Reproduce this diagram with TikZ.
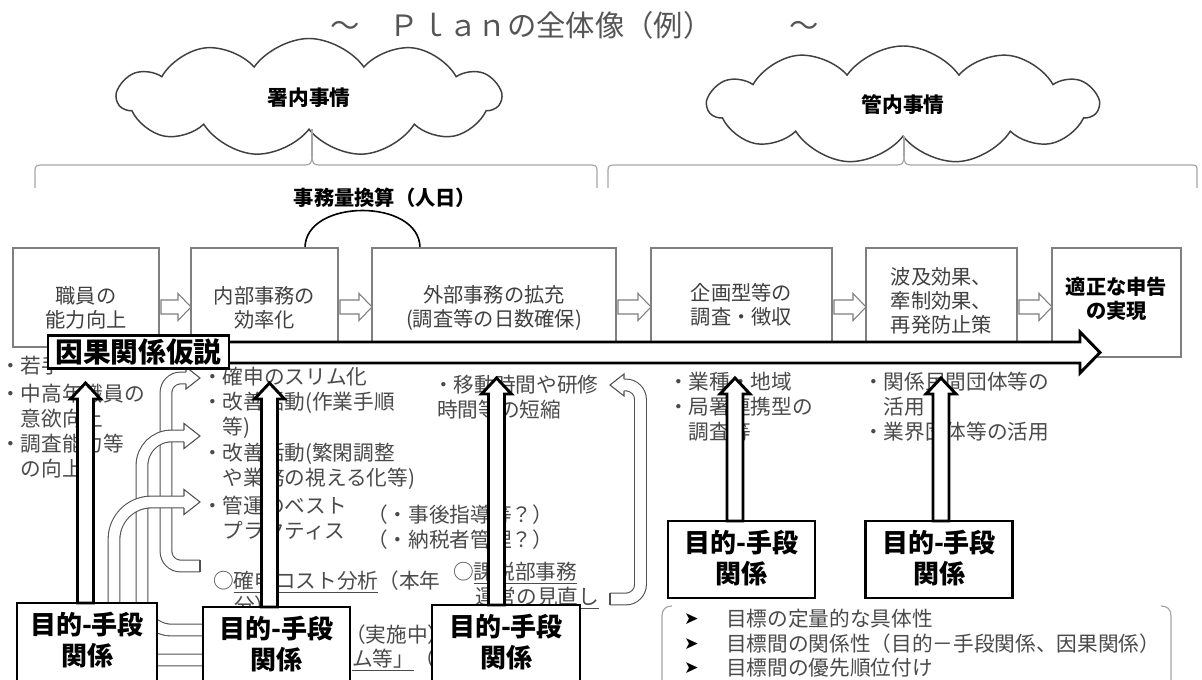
\documentclass[tikz,border=0pt]{standalone}
\usepackage{fontspec}
\setmainfont{Noto Sans CJK JP}
\newfontfamily\dejavu{DejaVu Sans}
\usetikzlibrary{shapes.symbols,calc}
\definecolor{boxgray}{HTML}{7F7F7F}
\definecolor{txtgray}{HTML}{404040}
\definecolor{listgray}{HTML}{4A4A4A}
\definecolor{bracegray}{HTML}{A6A6A6}
\definecolor{linegray}{HTML}{505050}
\definecolor{titlegray}{HTML}{555555}
\definecolor{cloudgray}{HTML}{404040}
\tikzset{
  every node/.style={inner sep=0pt, outer sep=0pt},
  tbox/.style={draw=boxgray, line width=0.8pt, fill=white, rectangle},
  ttext/.style={text=txtgray, align=center, font=\fontsize{15.2}{18}\selectfont},
  tbold/.style={text=black, align=center, font=\bfseries\fontsize{15.2}{18}\selectfont},
  ltext/.style={text=listgray, align=left, anchor=west, font=\fontsize{15.5}{18.75}\selectfont},
  midarrow/.style={draw=boxgray, line width=0.8pt, fill=white, line join=miter},
  bigarr/.style={draw=black, line width=2.2pt, fill=white, line join=miter},
  uparr/.style={draw=black, line width=2.2pt, fill=white, line join=miter},
  mbox/.style={draw=black, line width=2.2pt, fill=white, rectangle},
  mtext/.style={align=center, font=\bfseries\fontsize{19.5}{23.25}\selectfont},
  dbl/.style={draw=linegray, line width=0.8pt, double=white, double distance=8pt},
  headst/.style={draw=linegray, line width=0.8pt, fill=white, line join=miter},
  brace/.style={draw=bracegray, line width=0.9pt},
  cloudst/.style={cloud, cloud puffs=11, cloud puff arc=110, cloud ignores aspect,
     draw=cloudgray, line width=1.1pt, fill=white, font=\bfseries\fontsize{15.5}{18}\selectfont},
  hR/.style args={#1/#2/#3}{to path={($(\tikztostart)+(0,-#1)$) -- ($(\tikztotarget)+(-#3,-#1)$)
     -- ($(\tikztotarget)+(-#3,-#2)$) -- (\tikztotarget) -- ($(\tikztotarget)+(-#3,#2)$)
     -- ($(\tikztotarget)+(-#3,#1)$) -- ($(\tikztostart)+(0,#1)$) -- cycle}},
  hU/.style args={#1/#2/#3}{to path={($(\tikztostart)+(-#1,0)$) -- ($(\tikztotarget)+(-#1,#3)$)
     -- ($(\tikztotarget)+(-#2,#3)$) -- (\tikztotarget) -- ($(\tikztotarget)+(#2,#3)$)
     -- ($(\tikztotarget)+(#1,#3)$) -- ($(\tikztostart)+(#1,0)$) -- cycle}},
}
\begin{document}
\begin{tikzpicture}[x=0.75pt,y=-0.75pt]
\useasboundingbox[fill=white] (0,0) rectangle (1202,680);

% title
\node[anchor=west, text=titlegray, font=\fontsize{22}{26}\selectfont] (title) at (330,25.5)
  {～\hspace{23pt}Ｐｌａｎの全体像（例）\hspace{58pt}～};

% braces
\coordinate (tipL) at (312,156);
\coordinate (tipR) at (904,156);
\draw[brace] (35,188) -- (35,170) .. controls (35,166) and (37,165) .. (41,165) -- (305,165)
   .. controls (310,165) and (312,163) .. (tipL);
\draw[brace] (tipL) .. controls (312,163) and (314,165) .. (319,165) -- (591,165)
   .. controls (595,165) and (597,166) .. (597,170) -- (597,188);
\draw[brace] (608,188) -- (608,170) .. controls (608,166) and (610,165) .. (614,165) -- (897,165)
   .. controls (902,165) and (904,163) .. (tipR);
\draw[brace] (tipR) .. controls (904,163) and (906,165) .. (911,165) -- (1192,165)
   .. controls (1196,165) and (1197,166) .. (1197,170) -- (1197,188);

% clouds
\node[cloudst, minimum width=383*0.75pt, minimum height=118*0.75pt] (cl1) at (309,97.5) {署内事情};
\node[cloudst, minimum width=390*0.75pt, minimum height=118*0.75pt] (cl2) at (903,105) {管内事情};
\draw[brace] (cl1.south -| tipL) -- (tipL);
\draw[brace] (cl2.south -| tipR) -- (tipR);

% work-load label and arc
\node[tbold] (jimu) at (385,198) {事務量換算（人日）};
\coordinate (arcL) at (305,248);
\coordinate (arcR) at (420,248);
\draw[black, line width=1.2pt] (arcL) .. controls (305,198) and (420,198) .. (arcR);

% top boxes
\node[tbox, minimum width=146*0.75pt, minimum height=99*0.75pt] (b1) at (86,297.5) {};
\node[tbox, minimum width=147*0.75pt, minimum height=107*0.75pt] (b2) at (264.5,301.5) {};
\node[tbox, minimum width=244*0.75pt, minimum height=107*0.75pt] (b3) at (494,301.5) {};
\node[tbox, minimum width=181*0.75pt, minimum height=107*0.75pt] (b4) at (741.5,301.5) {};
\node[tbox, minimum width=151*0.75pt, minimum height=107*0.75pt] (b5) at (941.5,301.5) {};
\node[tbox, minimum width=129*0.75pt, minimum height=109*0.75pt] (b6) at (1116.5,302.5) {};
\node[ttext] (t1) at (86,308) {職員の\\能力向上};
\node[ttext] (t2) at (264.5,308) {内部事務の\\効率化};
\node[ttext] (t3) at (494,308) {外部事務の拡充\\(調査等の日数確保)};
\node[ttext] (t4) at (741.5,305) {企画型等の\\調査・徴収};
\node[ttext] (t5) at (941.5,301) {波及効果、\\牽制効果、\\再発防止策};
\node[tbold] (t6) at (1116.5,299) {適正な申告\\の実現};

% arrows between boxes
\coordinate (rowy) at (0,307);
\foreach \a/\b in {b1/b2,b2/b3,b3/b4,b4/b5,b5/b6}{
  \coordinate (s-\a) at ($(\a.east |- rowy)+(2,0)$);
  \coordinate (e-\a) at (\b.west |- rowy);
  \draw[midarrow] (s-\a) to[hR=7/13.5/13] (e-\a);
}

% list texts
\node[ltext] (l1a) at (0,366) {・若手};
\node[ltext] (l1b) at (0,406.5) {・中高年職員の\\\hphantom{・}意欲向上};
\node[ltext] (l1c) at (0,456.5) {・調査能力等\\\hphantom{・}の向上};

\node[ltext] (c2a) at (202,377) {・確申のスリム化};
\node[ltext] (c2b) at (202,415.5) {・改善活動(作業手順\\\hphantom{・}等)};
\node[ltext] (c2c) at (202,466.5) {・改善活動(繁閑調整\\\hphantom{・}や業務の視える化等)};
\node[ltext] (c2d) at (202,518.5) {・管運のベスト\\\hphantom{・}プラクティス};
\node[ltext] (c2e) at (367,515) {（・事後指導等？）};
\node[ltext] (c2f) at (367,540) {（・納税者管理？）};
\node[ltext] (k1) at (213,582) {○\underline{確申コスト分析}（本年};
\node[ltext] (k2) at (234,606) {分）};
\node[ltext] (k3) at (345,635) {（実施中）};
\node[ltext] (k4) at (352,660) {\underline{ム等」}（};

\node[ltext] (c3a) at (433,385) {・移動時間や研修};
\node[ltext] (c3b) at (437,410) {時間等の短縮};
\node[ltext] (c3c) at (453,573) {○\underline{課税部事務}};
\node[ltext] (c3d) at (475,598) {\underline{運営の見直し}};

\node[ltext] (d1) at (668,382) {・業種・地域};
\node[ltext] (d2) at (668,419.5) {・局署連携型の\\\hphantom{・}調査等};
\node[ltext] (e1) at (863,394.5) {・関係民間団体等の\\\hphantom{・}活用};
\node[ltext] (e2) at (863,432) {・業界団体等の活用};

% curved hollow arrows (left)
\coordinate (lx1) at (166,0);
\coordinate (hk1t) at (200,566);
\coordinate (hk1b) at (186,378);
\coordinate (hk1h) at (200,378);
\draw[dbl, rounded corners=11pt] (hk1t) -- (hk1t -| lx1) -- (hk1b -| lx1) -- (hk1b);
\draw[headst] ($(hk1h)+(-14,-5.9)$) -- ($(hk1h)+(-14,-11)$) -- (hk1h) -- ($(hk1h)+(-14,11)$) -- ($(hk1h)+(-14,5.9)$);
\draw[linegray, line width=0.8pt] ($(hk1t)+(0,-5.9)$) -- ($(hk1t)+(0,5.9)$);

\coordinate (lx2) at (142,0);
\coordinate (a2t) at (215,630);
\coordinate (a2b) at (184,436);
\coordinate (a2h) at (200,436);
\draw[dbl, rounded corners=22pt] (a2t) -- (a2t -| lx2) -- (a2b -| lx2) -- (a2b);
\draw[headst] ($(a2h)+(-16,-5.9)$) -- ($(a2h)+(-16,-12.5)$) -- (a2h) -- ($(a2h)+(-16,12.5)$) -- ($(a2h)+(-16,5.9)$);

\coordinate (lx3) at (114,0);
\coordinate (a3t) at (215,660);
\coordinate (a3b) at (184,502);
\coordinate (a3h) at (200,502);
\draw[dbl, rounded corners=28pt] (a3t) -- (a3t -| lx3) -- (a3b -| lx3) -- (a3b);
\draw[headst] ($(a3h)+(-16,-5.9)$) -- ($(a3h)+(-16,-12.5)$) -- (a3h) -- ($(a3h)+(-16,12.5)$) -- ($(a3h)+(-16,5.9)$);

% right hook arrow
\coordinate (lxr) at (640.5,0);
\coordinate (rht) at (610,599);
\coordinate (rhb) at (624,385);
\coordinate (rhh) at (610,385);
\draw[dbl, rounded corners=11pt] (rht) -- (rht -| lxr) -- (rhb -| lxr) -- (rhb);
\draw[headst] ($(rhh)+(14,-5.9)$) -- ($(rhh)+(14,-11)$) -- (rhh) -- ($(rhh)+(14,11)$) -- ($(rhh)+(14,5.9)$);
\draw[linegray, line width=0.8pt] ($(rht)+(0,-5.9)$) -- ($(rht)+(0,5.9)$);

% causal hypothesis arrow
\coordinate (cs) at (200,352.5);
\coordinate (ct) at (1100,352.5);
\draw[bigarr] (cs) to[hR=10.5/20.5/20] (ct);
\node[draw=black, line width=2.2pt, fill=white, minimum width=181*0.75pt, minimum height=33*0.75pt,
   font=\bfseries\fontsize{20.8}{24}\selectfont] (hyp) at (138.5,352) {因果関係仮説};

% bottom boxes and up arrows
\node[mbox, minimum width=140*0.75pt, minimum height=100*0.75pt, anchor=north] (ba) at (87,603) {};
\node[mbox, minimum width=147*0.75pt, minimum height=100*0.75pt, anchor=north] (bb) at (276.5,607) {};
\node[mbox, minimum width=148*0.75pt, minimum height=100*0.75pt, anchor=north] (bc) at (506,605) {};
\node[mbox, minimum width=147*0.75pt, minimum height=77*0.75pt, anchor=north] (bd) at (741.5,521) {};
\node[mbox, minimum width=147*0.75pt, minimum height=77*0.75pt, anchor=north] (be) at (939,521) {};
\foreach \b in {ba,bb,bc,bd,be}{
  \node[mtext] (t\b) at ($(\b.north)+(0,37)$) {目的-手段\\関係};
}

\coordinate (tA) at (85.5,383);
\coordinate (tB) at (269.5,383);
\coordinate (tC) at (496.5,378);
\coordinate (tD) at (735,378);
\coordinate (tE) at (941,378);
\foreach \t/\b in {tA/ba,tB/bb,tC/bc,tD/bd,tE/be}{
  \coordinate (s\t) at (\b.north -| \t);
  \draw[uparr] (s\t) to[hU=8/15/16] (\t);
}

% bottom-right bracket note
\draw[brace] (672,606) .. controls (666,606) and (662,609) .. (662,616) -- (662,700);
\draw[brace] (1161,606) .. controls (1167,606) and (1171,609) .. (1171,616) -- (1171,700);
\foreach \y/\n/\s in {619/g1/目標の定量的な具体性, 644/g2/目標間の関係性（目的－手段関係、因果関係）, 668/g3/目標間の優先順位付け}{
  \node[anchor=west, font=\dejavu\fontsize{13}{15}\selectfont] (m\n) at (684,\y) {➤};
  \node[ltext] (\n) at (726,\y) {\s};
}
\end{tikzpicture}
\end{document}
